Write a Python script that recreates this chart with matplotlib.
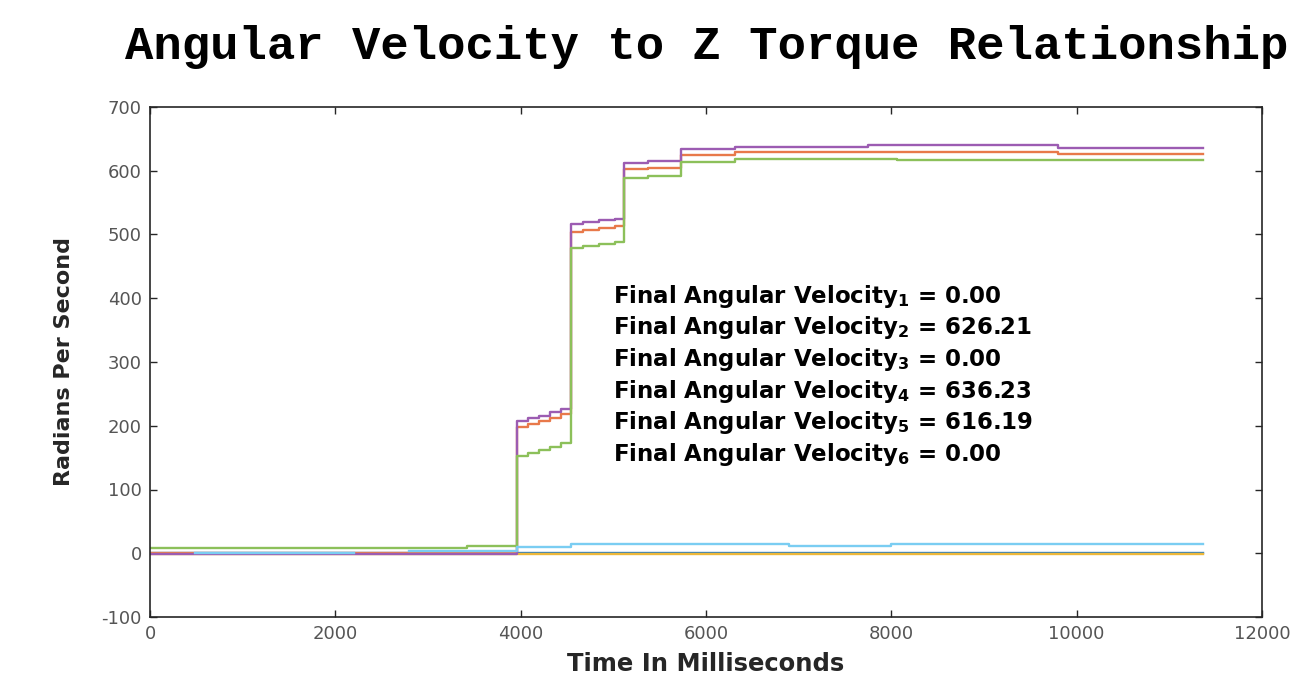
import numpy as np
import matplotlib
matplotlib.use("Agg")
import matplotlib.pyplot as plt

plt.rcParams['axes.unicode_minus'] = False

# ---- data (step series, time in ms) ----
t_end = 11360

s1_t = [0, t_end]
s1_v = [0.5, 0.5]

s2_t = [0, 3964, 4080, 4200, 4320, 4430, 4538, 4670, 4850, 5020, 5120, 5373, 5725, 6318, 9800, t_end]
s2_v = [0, 197.5, 202, 207, 212, 218, 503.4, 507, 510, 513, 602, 604, 624.7, 629.5, 626.21, 626.21]

s3_t = [0, t_end]
s3_v = [-0.8, -0.8]

s4_t = [0, 3964, 4080, 4200, 4320, 4430, 4538, 4670, 4850, 5020, 5120, 5373, 5725, 6318, 7750, 9800, t_end]
s4_v = [-1, 208, 212, 216, 221, 227, 516.5, 519, 522, 525, 611.6, 615.8, 633.6, 637.8, 640.4, 636.23, 636.23]

s5_t = [0, 3420, 3964, 4080, 4200, 4320, 4430, 4538, 4670, 4850, 5020, 5120, 5373, 5725, 6318, 8060, t_end]
s5_v = [8, 12, 153, 157, 162, 167, 173, 479, 482, 485, 488, 589, 592, 614, 618, 616.19, 616.19]

s6_t = [490, 2200, 2800, 3964, 4538, 6900, 8000, t_end]
s6_v = [0.5, np.nan, 3, 9.3, 14, 12, 14, 14]

series = [(s1_t, s1_v), (s2_t, s2_v), (s3_t, s3_v), (s4_t, s4_v), (s5_t, s5_v), (s6_t, s6_v)]
colors = ['#2F7FC0', '#E8794A', '#EDB83A', '#9C5CB2', '#8CC05A', '#7ACDF2']

final_vals = [0.00, 626.21, 0.00, 636.23, 616.19, 0.00]

x_ticks = [0, 2000, 4000, 6000, 8000, 10000, 12000]
y_ticks = [-100, 0, 100, 200, 300, 400, 500, 600, 700]

# ---- figure ----
fig = plt.figure(figsize=(12.97, 6.8), dpi=100)
ax = fig.add_axes([150/1297, 1-617/680, (1262-150)/1297, (617-107)/680])

for (t, v), c in zip(series, colors):
    ax.step(t, v, where='post', color=c, lw=1.7)

ax.set_xlim(0, 12000)
ax.set_ylim(-100, 700)
ax.set_xticks(x_ticks)
ax.set_yticks(y_ticks)
ax.tick_params(direction='in', top=True, right=True, length=5, width=1.0,
               colors='#262626', labelcolor='#555555', labelsize=13, pad=6)
for sp in ax.spines.values():
    sp.set_color('#262626')
    sp.set_linewidth(1.2)

ax.set_xlabel('Time In Milliseconds', fontsize=17.5, fontweight='bold', color='#262626', labelpad=6)
ax.set_ylabel('Radians Per Second', fontsize=16, fontweight='bold', color='#262626', labelpad=20)

fig.text(0.545, 1-47/680, 'Angular Velocity to Z Torque Relationship',
         family='Liberation Mono', fontweight='bold', fontsize=34, ha='center', va='center',
         color='black')

for i, fv in enumerate(final_vals):
    ax.text(5000, 393 - i*49.6, r'Final Angular Velocity$_\mathbf{%d}$ = %.2f' % (i+1, fv),
            fontsize=16.5, fontweight='bold', color='black', va='baseline', ha='left')

fig.savefig('out.png', dpi=100, facecolor='white')
